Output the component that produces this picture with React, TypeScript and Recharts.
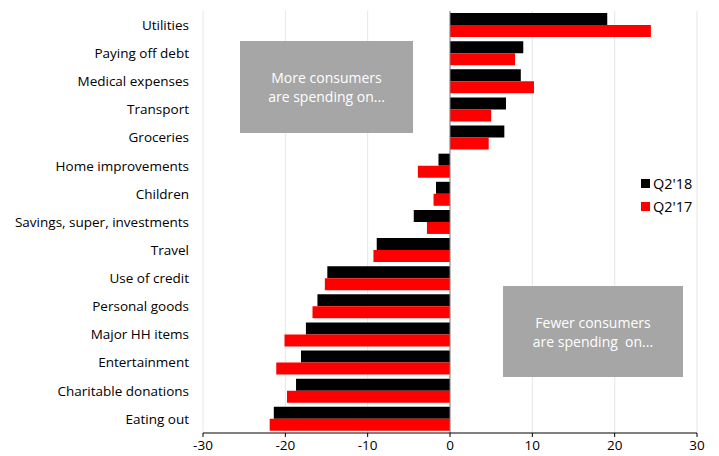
import { Bar, BarChart, CartesianGrid, ReferenceLine, XAxis, YAxis } from "recharts";

// Net share of consumers spending more vs less, by category.
const CATEGORIES = [
  "Utilities",
  "Paying off debt",
  "Medical expenses",
  "Transport",
  "Groceries",
  "Home improvements",
  "Children",
  "Savings, super, investments",
  "Travel",
  "Use of credit",
  "Personal goods",
  "Major HH items",
  "Entertainment",
  "Charitable donations",
  "Eating out",
];
const Q2_18 = [19.1, 8.9, 8.6, 6.8, 6.6, -1.4, -1.7, -4.4, -8.9, -14.9, -16.1, -17.5, -18.1, -18.7, -21.4];
const Q2_17 = [24.4, 7.9, 10.2, 5.0, 4.7, -3.9, -2.0, -2.8, -9.3, -15.2, -16.7, -20.1, -21.1, -19.8, -21.9];
const X_TICKS = [-30, -20, -10, 0, 10, 20, 30];
const SERIES = [
  { key: "q18", name: "Q2'18", color: "#000000" },
  { key: "q17", name: "Q2'17", color: "#ff0000" },
];

const rows = CATEGORIES.map((name, i) => ({ name, q18: Q2_18[i], q17: Q2_17[i] }));

const FONT = "'Open Sans', 'Noto Sans', sans-serif";

const boxStyle: React.CSSProperties = {
  position: "absolute",
  background: "#a6a6a6",
  color: "#fff",
  fontSize: 14,
  lineHeight: "19px",
  textAlign: "center",
  display: "flex",
  alignItems: "center",
  justifyContent: "center",
  fontFamily: FONT,
  whiteSpace: "pre",
};

export default function App() {
  return (
    <div style={{ position: "fixed", left: 0, top: 0, width: 719, height: 456, background: "#fff", fontFamily: FONT }}>
      <BarChart
        width={719}
        height={456}
        data={rows}
        layout="vertical"
        margin={{ top: 11, right: 22, bottom: 3, left: 0 }}
        barSize={12}
        barGap={0}
      >
        <CartesianGrid horizontal={false} stroke="#e6e6e6" />
        <XAxis
          type="number"
          domain={[-30, 30]}
          ticks={X_TICKS}
          height={20}
          axisLine={{ stroke: "#000" }}
          tickLine={{ stroke: "#000" }}
          tickSize={4}
          tickMargin={3}
          tick={{ fill: "#000", fontSize: 13.5, fontFamily: FONT }}
        />
        <YAxis
          type="category"
          dataKey="name"
          width={203}
          axisLine={false}
          tickLine={false}
          tickMargin={8}
          interval={0}
          tick={{ fill: "#000", fontSize: 13.5, fontFamily: FONT }}
        />
        <ReferenceLine x={0} stroke="#808080" />
        {SERIES.map((s) => (
          <Bar key={s.key} dataKey={s.key} name={s.name} fill={s.color} isAnimationActive={false} />
        ))}
      </BarChart>
      <div style={{ position: "absolute", left: 641, top: 172, fontSize: 14.5, lineHeight: "23px", color: "#000" }}>
        {SERIES.map((s) => (
          <div key={s.key} style={{ display: "flex", alignItems: "center" }}>
            <span style={{ width: 9, height: 9, background: s.color, marginRight: 3 }} />
            {s.name}
          </div>
        ))}
      </div>
      <div style={{ ...boxStyle, left: 240, top: 41, width: 173, height: 92 }}>
        {"More consumers\nare spending on..."}
      </div>
      <div style={{ ...boxStyle, left: 503, top: 286, width: 180, height: 91 }}>
        {"Fewer consumers\nare spending  on..."}
      </div>
    </div>
  );
}
